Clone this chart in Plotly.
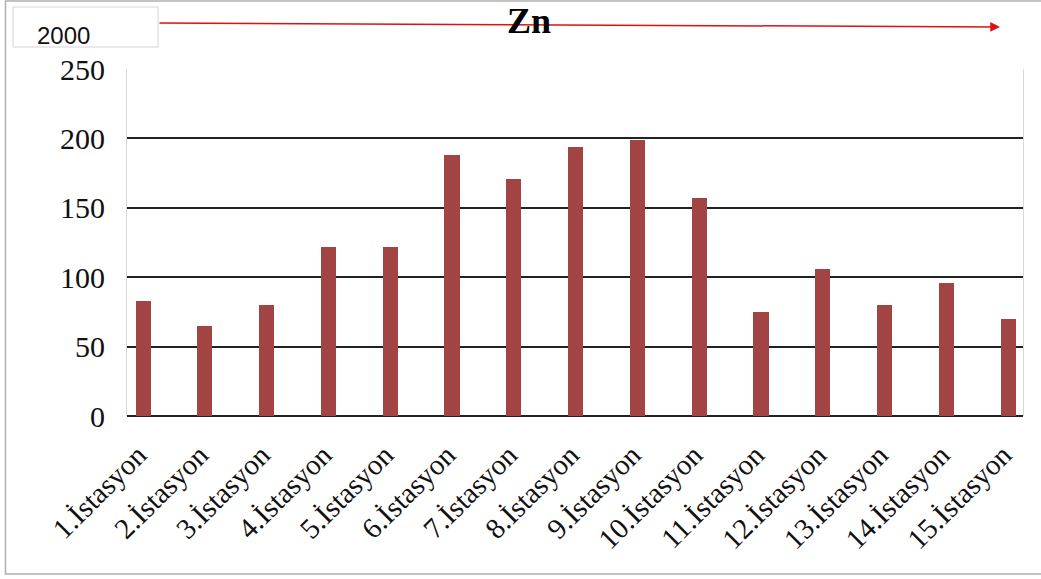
import plotly.graph_objects as go

categories = [f"{i}.İstasyon" for i in range(1, 16)]
values = [83, 65, 80, 122, 122, 188, 171, 194, 199, 157, 75, 106, 80, 96, 70]
title_text = "Zn"
year_text = "2000"
y_ticks = [0, 50, 100, 150, 200, 250]

W, H = 1041, 579
ML, MR, MT, MB = 127, 18, 69, 163
PW, PH = W - ML - MR, H - MT - MB

def px(x):
    return (x - ML) / PW

def py(y):
    return 1 - (y - MT) / PH

fig = go.Figure()
fig.add_trace(go.Bar(
    x=categories, y=values,
    marker=dict(color="#A34444", line=dict(width=0)),
    width=0.245,
))

serif = "Liberation Serif, Times New Roman, serif"

fig.update_layout(
    width=W, height=H,
    margin=dict(l=ML, r=MR, t=MT, b=MB),
    paper_bgcolor="white", plot_bgcolor="white",
    showlegend=False,
    bargap=0,
    xaxis=dict(
        type="category",
        range=[-0.26, 14.24],
        tickangle=-45,
        tickmode="array",
        tickvals=categories,
        ticktext=[c + "\u00a0" for c in categories],
        tickfont=dict(family=serif, size=29, color="#111"),
        showgrid=False, ticks="", showline=False,
        ticklabelstandoff=10,
    ),
    yaxis=dict(
        range=[0, 250],
        tickvals=y_ticks,
        tickfont=dict(family=serif, size=30, color="#111"),
        showgrid=True, gridcolor="#222", gridwidth=2,
        zeroline=True, zerolinecolor="#222", zerolinewidth=2,
        showline=True, linecolor="#d8d8d8", linewidth=1, mirror=True,
        ticks="", ticklabelstandoff=15,
    ),
    shapes=[
        dict(type="rect", xref="paper", yref="paper",
             x0=px(5.5), x1=px(1046), y0=py(574), y1=py(1),
             line=dict(color="#b0b0b0", width=1.5), fillcolor="rgba(0,0,0,0)", layer="below"),
        dict(type="rect", xref="paper", yref="paper",
             x0=px(13), x1=px(158), y0=py(47), y1=py(7),
             line=dict(color="#d4d4d4", width=1), fillcolor="white"),
    ],
    annotations=[
        dict(text="", xref="paper", yref="paper",
             x=px(1000), y=py(27), ax=-842, ay=-4,
             axref="pixel", ayref="pixel",
             showarrow=True, arrowhead=2, arrowsize=1.3, arrowwidth=1.5,
             arrowcolor="#e01010"),
        dict(text=f"<b>{title_text}</b>", xref="paper", yref="paper",
             x=px(529), y=py(21), xanchor="center", yanchor="middle", showarrow=False,
             font=dict(family=serif, size=36, color="black")),
        dict(text=year_text, xref="paper", yref="paper",
             x=px(63.5), y=py(35), xanchor="center", yanchor="middle", showarrow=False,
             font=dict(family="Liberation Sans, Arial, sans-serif", size=24, color="#111")),
    ],
)

fig.write_html("out.html", config={"displayModeBar": False},
               post_script="document.body.style.margin='0';document.body.style.overflow='hidden';")
